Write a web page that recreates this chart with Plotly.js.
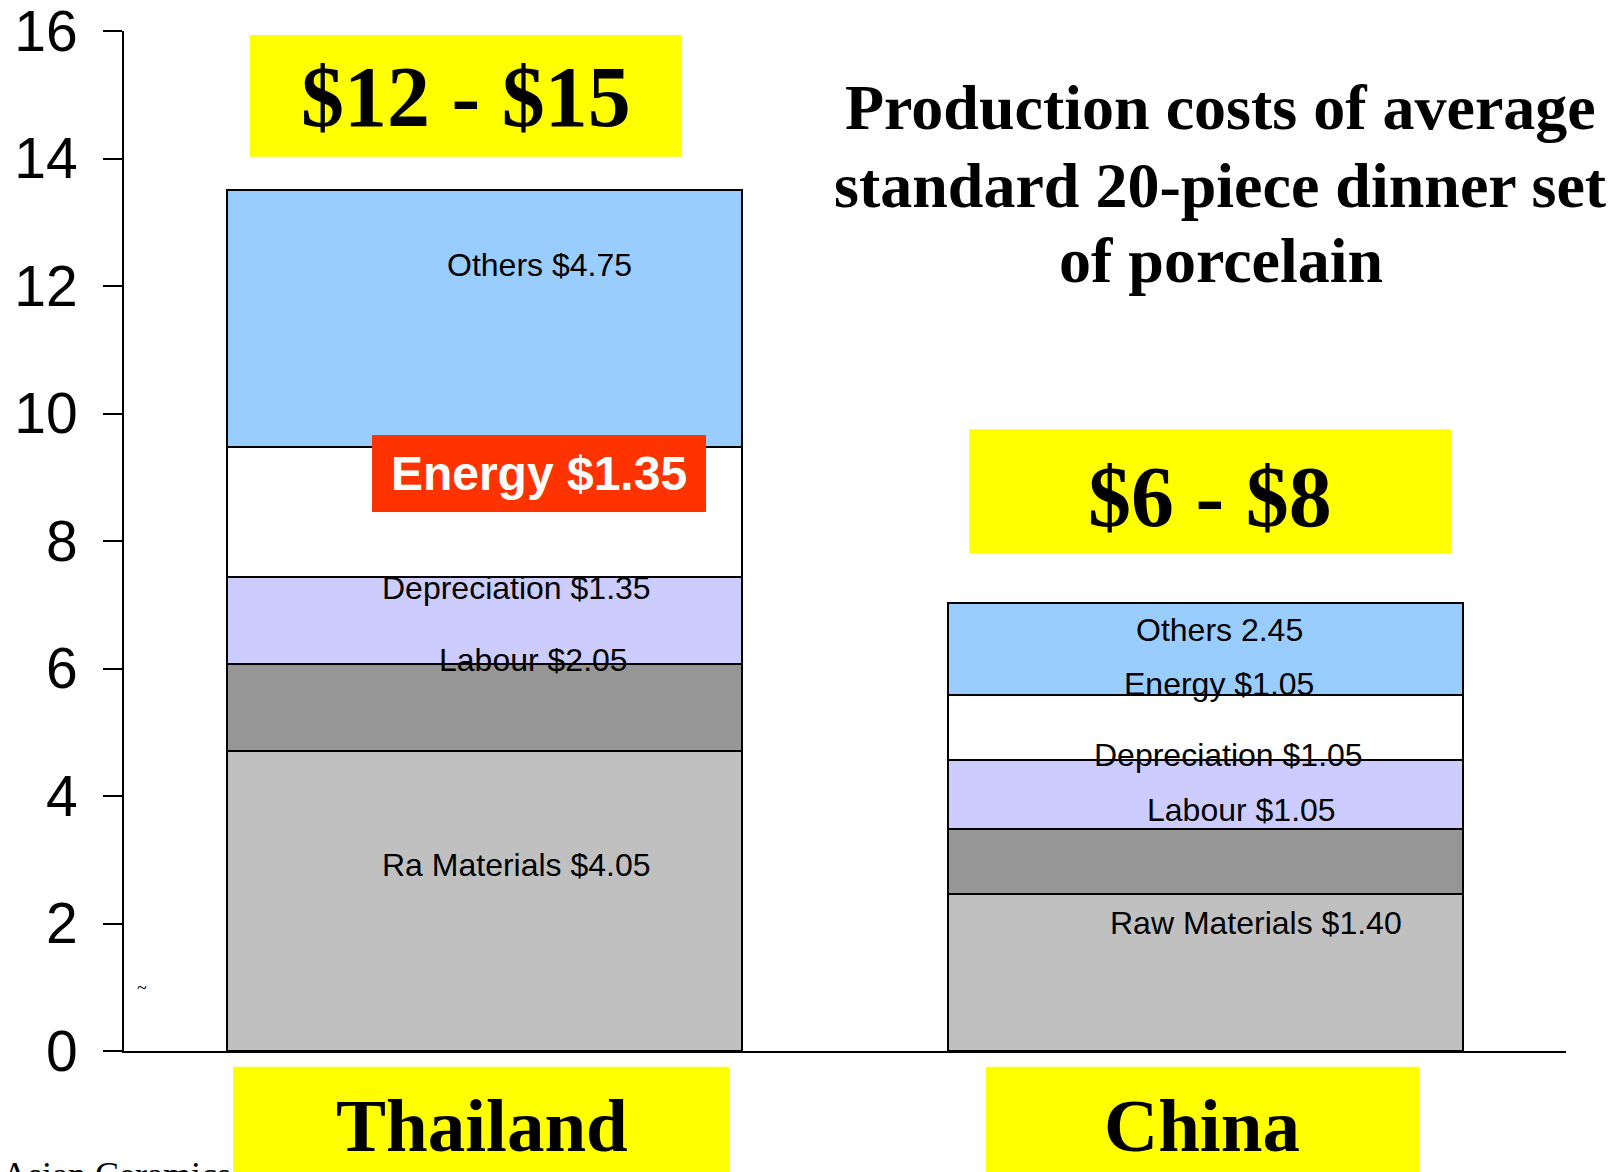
<!DOCTYPE html>
<html>
<head>
<meta charset="utf-8">
<script src="https://cdn.plot.ly/plotly-3.0.1.min.js"></script>
<style>html,body{margin:0;padding:0;background:#fff;}#chart{width:1622px;height:1172px;}</style>
</head>
<body>
<div id="chart"></div>
<script>
// ---- data ----
const categories = ["Thailand", "China"];
const rawMaterials = [4.71, 2.46];   // light grey (bottom)
const labourSeg = [1.36, 1.03];      // dark grey
const deprecSeg = [1.36, 1.07];      // lavender
const energySeg = [2.05, 1.02];      // white
const othersSeg = [4.02, 1.44];      // light blue (top)
const yTicks = [0, 2, 4, 6, 8, 10, 12, 14, 16];
const priceRanges = ["$12 - $15", "$6 - $8"];
const thaiLabels = ["Others $4.75", "Depreciation $1.35", "Labour $2.05", "Ra Materials $4.05"];
const thaiEnergyLabel = "Energy $1.35";
const chinaLabels = ["Others 2.45", "Energy $1.05", "Depreciation $1.05", "Labour $1.05", "Raw Materials $1.40"];
const titleLines = ["Production costs of average", "standard 20-piece dinner set", "of porcelain"];
const sourceText = "Asian Ceramics";

// ---- layout helpers (pixel -> paper) ----
const L = 124, T = 31, W = 1442, H = 1020;
const px = x => (x - L) / W;
const py = y => (T + H - y) / H;

const segColors = ["#C0C0C0", "#969696", "#CCCCFF", "#FFFFFF", "#99CCFF"];
const segData = [rawMaterials, labourSeg, deprecSeg, energySeg, othersSeg];
const traces = segData.map((vals, i) => ({
  type: "bar",
  x: categories,
  y: vals,
  width: 0.713,
  marker: {color: segColors[i], line: {color: "#000", width: 2}},
  hoverinfo: "none",
  showlegend: false
}));

const sans = "Liberation Sans, Arial, sans-serif";
const serif = "Liberation Serif, Times New Roman, serif";

const annotations = [];
function ann(text, x, y, size, family, extra) {
  annotations.push(Object.assign({
    text: text, xref: "paper", yref: "paper", x: px(x), y: py(y),
    xanchor: "center", yanchor: "middle", showarrow: false,
    font: {size: size, family: family, color: "#000"}
  }, extra || {}));
}
const boldSerif = s => ({font: {size: s, family: serif, color: "#000", weight: "bold"}});

// title lines
ann(titleLines[0], 1220.6, 107.5, 64, serif, boldSerif(64));
ann(titleLines[1], 1220.6, 185, 64, serif, boldSerif(64));
ann(titleLines[2], 1220.6, 260.6, 64, serif, boldSerif(64));

// price range labels
ann(priceRanges[0], 465.8, 96.8, 86, serif, boldSerif(86));
ann(priceRanges[1], 1209.5, 496.6, 86, serif, boldSerif(86));

// category labels
ann(categories[0], 481.5, 1125, 75, serif, boldSerif(75));
ann(categories[1], 1201.5, 1125, 75, serif, boldSerif(75));

// Thailand segment labels
const segSize = 32;
ann(thaiLabels[0], 539, 265, segSize, sans);
ann(thaiLabels[1], 516.2, 587.5, segSize, sans);
ann(thaiLabels[2], 533.3, 660, segSize, sans);
ann(thaiLabels[3], 516.2, 864.8, segSize, sans);
ann(thaiEnergyLabel, 539.2, 473.6, 48, sans, {
  font: {size: 48, family: sans, color: "#fff", weight: "bold"},
  bgcolor: "#FF3300", width: 334, height: 77, borderpad: 0, borderwidth: 0
});

// China segment labels
ann(chinaLabels[0], 1219, 630, segSize, sans);
ann(chinaLabels[1], 1219, 683.7, segSize, sans);
ann(chinaLabels[2], 1228, 755, segSize, sans);
ann(chinaLabels[3], 1241, 810, segSize, sans);
ann(chinaLabels[4], 1256, 922.7, segSize, sans);

// misc
ann("~", 141.7, 988, 18, serif);
ann(sourceText, 0, 1175, 36, serif, {xanchor: "left"});

const shapes = [
  {x0: 250, x1: 681.7, y0: 35, y1: 156.7},
  {x0: 969.2, x1: 1451.3, y0: 429.3, y1: 553.4},
  {x0: 233, x1: 729, y0: 1066.7, y1: 1175},
  {x0: 986, x1: 1419, y0: 1066.7, y1: 1175}
].map(r => ({
  type: "rect", xref: "paper", yref: "paper",
  x0: px(r.x0), x1: px(r.x1), y0: py(r.y1), y1: py(r.y0),
  fillcolor: "#FFFF00", line: {width: 0}, layer: "below"
}));

const layout = {
  width: 1622, height: 1172,
  margin: {l: L, r: 1622 - L - W, t: T, b: 1172 - T - H, pad: 0},
  paper_bgcolor: "#fff", plot_bgcolor: "rgba(0,0,0,0)",
  barmode: "stack",
  bargap: 0,
  xaxis: {
    type: "category", range: [-0.5, 1.5], showticklabels: false, ticks: "",
    showline: true, linecolor: "#000", linewidth: 2, showgrid: false, zeroline: false, fixedrange: true
  },
  yaxis: {
    range: [0, 16], tickvals: yTicks, ticktext: yTicks.map(String),
    ticks: "outside", ticklen: 19, tickwidth: 2, tickcolor: "#000",
    showline: true, linecolor: "#000", linewidth: 2, showgrid: false, zeroline: false,
    tickfont: {size: 57, family: sans, color: "#000"}, ticklabelstandoff: 14,
    ticklabeloverflow: "allow", fixedrange: true
  },
  annotations: annotations,
  shapes: shapes
};

Plotly.newPlot("chart", traces, layout, {staticPlot: true, displayModeBar: false});
</script>
</body>
</html>
